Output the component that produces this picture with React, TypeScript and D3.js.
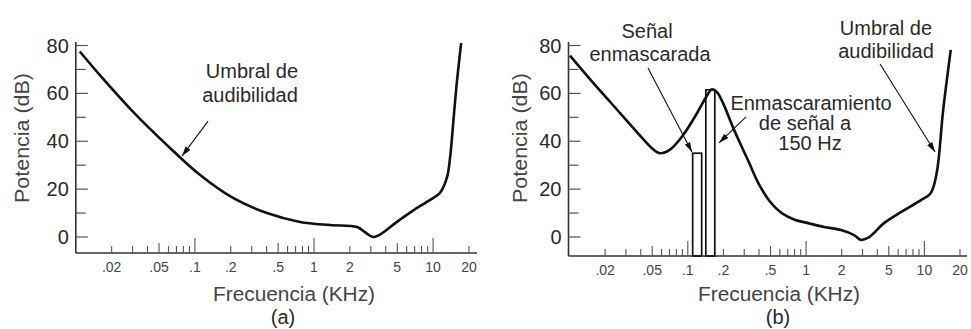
import * as d3 from "d3";
import { useEffect, useRef } from "react";

const COLORS = {
  curve: "#111111",
  axis: "#333333",
  tick: "#555555",
  text: "#2a2a2a",
  textLight: "#444444",
};

const FONT = "'Liberation Sans', Arial, Helvetica, sans-serif";

// x tick labels (kHz)
const freqLabelValues = [0.02, 0.05, 0.1, 0.2, 0.5, 1, 2, 5, 10, 20];
const freqLabels = [".02", ".05", ".1", ".2", ".5", "1", "2", "5", "10", "20"];

// y ticks (dB)
const dbLabelValues = [0, 20, 40, 60, 80];
const dbMinorValues = [10, 30, 50, 70];

// (a) threshold of hearing
const thresholdFreq = [
  0.0108, 0.016, 0.03, 0.058, 0.11, 0.209, 0.403, 0.763, 1.36, 2.3, 2.68,
  3.13, 3.58, 4.97, 6.78, 9.42, 11.4, 13.1, 13.9, 15.0, 15.9, 17.2,
];
const thresholdDb = [
  77.5, 67.5, 52.5, 38.5, 26, 16.3, 10, 6.3, 5, 4.2, 2, 0, 1, 6.3, 11, 15.5,
  18.4, 25, 33.4, 51.8, 65.6, 81,
];

// (b) threshold raised by a 150 Hz masker
const maskedFreq = [
  0.0101, 0.0158, 0.022, 0.0306, 0.0418, 0.05, 0.0582, 0.0707, 0.091, 0.1196,
  0.145, 0.16, 0.177, 0.199, 0.241, 0.29, 0.33, 0.4, 0.5, 0.62, 0.8, 1.04,
  1.42, 1.97, 2.54, 2.91, 3.33, 3.75, 4.55, 6.33, 9.36, 11.3, 12.7, 14.4,
  16.7,
];
const maskedDb = [
  75.8, 64.5, 56.5, 48.5, 41, 37, 35, 36.5, 42.5, 51.7, 59, 61.7, 60.4, 55.8,
  45.8, 37, 31, 22, 14.5, 10, 7.2, 5.8, 4.2, 2.9, 0.8, -1.2, -0.4, 1.7, 5.8,
  10.4, 15.4, 18.3, 26.7, 52.9, 78.2,
];

// (b) tones: masked signal and 150 Hz masker
const toneFreq = [0.12, 0.155];
const toneDb = [35, 61.5];

const PANELS = [
  {
    key: "a",
    x0: 75.8, // pixel of 0.01 kHz
    x1: 314, // pixel of 1 kHz
    xEnd: 477,
    axisY: 253,
    yAxisX: 75.8,
    yTitleX: 29,
    xTitleX: 294,
    captionX: 283,
    freq: thresholdFreq,
    db: thresholdDb,
    tones: false,
    notes: [
      {
        lines: [
          { t: "Umbral de", dx: 252, y: 78 },
          { t: "audibilidad", dx: 250, y: 102 },
        ],
        tip: [0.078, 33.8],
        tail: [26, -35],
      },
    ],
  },
  {
    key: "b",
    x0: 569.5,
    x1: 806.1,
    xEnd: 967,
    axisY: 256,
    yAxisX: 568.5,
    yTitleX: 527,
    xTitleX: 779,
    captionX: 778,
    freq: maskedFreq,
    db: maskedDb,
    tones: true,
    notes: [
      {
        lines: [
          { t: "Señal", dx: 647, y: 38 },
          { t: "enmascarada", dx: 650, y: 61 },
        ],
        tip: [0.1085, 35.5],
        tail: [-44, -84],
      },
      {
        lines: [
          { t: "Enmascaramiento", dx: 811, y: 110 },
          { t: "de señal a", dx: 805, y: 130 },
          { t: "150 Hz", dx: 810, y: 150 },
        ],
        tip: [0.1836, 39.3],
        tail: [27, -26],
      },
      {
        lines: [
          { t: "Umbral de", dx: 886, y: 35 },
          { t: "audibilidad", dx: 886, y: 58 },
        ],
        tip: [12.3, 35.5],
        tail: [-55, -88],
      },
    ],
  },
];

const App = () => {
  const svgRef = useRef(null);

  useEffect(() => {
    const svgEl = d3.select(svgRef.current);
    svgEl.selectAll("*").remove();

    // arrow head
    svgEl
      .append("defs")
      .append("marker")
      .attr("id", "arrow")
      .attr("viewBox", "0 0 10 6")
      .attr("refX", 10)
      .attr("refY", 3)
      .attr("markerWidth", 10)
      .attr("markerHeight", 6)
      .attr("markerUnits", "userSpaceOnUse")
      .attr("orient", "auto")
      .append("path")
      .attr("d", "M0,0 L10,3 L0,6 Z")
      .attr("fill", COLORS.curve);

    const yScale = d3.scaleLinear().domain([0, 80]).range([237, 45.5]);

    PANELS.forEach((p) => {
      const g = svgEl.append("g");
      const xScale = d3.scaleLog().domain([0.01, 1]).range([p.x0, p.x1]);
      const fMax = xScale.invert(p.xEnd);

      // x axis line
      g.append("line")
        .attr("x1", p.yAxisX)
        .attr("x2", p.xEnd)
        .attr("y1", p.axisY)
        .attr("y2", p.axisY)
        .attr("stroke", COLORS.axis)
        .attr("stroke-width", 1.6);

      // y axis line
      g.append("line")
        .attr("x1", p.yAxisX)
        .attr("x2", p.yAxisX)
        .attr("y1", 42)
        .attr("y2", p.axisY)
        .attr("stroke", COLORS.axis)
        .attr("stroke-width", 1.6);

      // x ticks (log minor ticks)
      const ticks = xScale
        .copy()
        .domain([0.01, fMax])
        .ticks()
        .filter((t) => t > 0.0105 && t < fMax);
      g.selectAll(".xtick")
        .data(ticks)
        .enter()
        .append("line")
        .attr("x1", (d) => xScale(d))
        .attr("x2", (d) => xScale(d))
        .attr("y1", p.axisY)
        .attr("y2", (d) => {
          const lead = Math.round(d / Math.pow(10, Math.floor(Math.log10(d) + 1e-9)));
          const h = lead === 1 ? 15 : lead === 5 ? 10 : 7;
          return p.axisY - h;
        })
        .attr("stroke", COLORS.tick)
        .attr("stroke-width", 1.1);

      g.selectAll(".xlabel")
        .data(freqLabelValues)
        .enter()
        .append("text")
        .attr("x", (d) => xScale(d))
        .attr("y", p.axisY + 18.5)
        .attr("text-anchor", "middle")
        .attr("font-family", FONT)
        .attr("font-size", 14)
        .attr("fill", COLORS.textLight)
        .text((d, i) => freqLabels[i]);

      // y ticks
      g.selectAll(".ytick")
        .data(dbLabelValues.concat(dbMinorValues))
        .enter()
        .append("line")
        .attr("x1", p.yAxisX)
        .attr("x2", (d) => p.yAxisX + (d % 20 === 0 ? 12 : 10))
        .attr("y1", (d) => yScale(d))
        .attr("y2", (d) => yScale(d))
        .attr("stroke", COLORS.tick)
        .attr("stroke-width", 1.2);

      g.selectAll(".ylabel")
        .data(dbLabelValues)
        .enter()
        .append("text")
        .attr("x", p.yAxisX - 7)
        .attr("y", (d) => yScale(d))
        .attr("dy", "0.35em")
        .attr("text-anchor", "end")
        .attr("font-family", FONT)
        .attr("font-size", 20)
        .attr("fill", COLORS.text)
        .text((d) => d);

      // axis titles
      g.append("text")
        .attr("transform", `translate(${p.yTitleX},138) rotate(-90)`)
        .attr("text-anchor", "middle")
        .attr("font-family", FONT)
        .attr("font-size", 20)
        .attr("textLength", 130)
        .attr("lengthAdjust", "spacingAndGlyphs")
        .attr("fill", COLORS.textLight)
        .text("Potencia (dB)");

      g.append("text")
        .attr("x", p.xTitleX)
        .attr("y", 301)
        .attr("text-anchor", "middle")
        .attr("font-family", FONT)
        .attr("font-size", 20)
        .attr("textLength", 162)
        .attr("lengthAdjust", "spacingAndGlyphs")
        .attr("fill", COLORS.textLight)
        .text("Frecuencia (KHz)");

      g.append("text")
        .attr("x", p.captionX)
        .attr("y", 324)
        .attr("text-anchor", "middle")
        .attr("font-family", FONT)
        .attr("font-size", 20)
        .attr("fill", COLORS.text)
        .text(`(${p.key})`);

      // tones
      if (p.tones) {
        g.selectAll(".tone")
          .data(toneFreq)
          .enter()
          .append("rect")
          .attr("x", (d) => xScale(d) - 4.5)
          .attr("width", 9)
          .attr("y", (d, i) => yScale(toneDb[i]))
          .attr("height", (d, i) => p.axisY - yScale(toneDb[i]))
          .attr("fill", "none")
          .attr("stroke", COLORS.curve)
          .attr("stroke-width", 1.7);
      }

      // curve
      const pts = p.freq.map((f, i) => [f, p.db[i]]);
      const line = d3
        .line()
        .x((d) => xScale(d[0]))
        .y((d) => yScale(d[1]))
        .curve(d3.curveCatmullRom.alpha(0.5));
      g.append("path")
        .attr("d", line(pts))
        .attr("fill", "none")
        .attr("stroke", COLORS.curve)
        .attr("stroke-width", 2.6)
        .attr("stroke-linejoin", "round");

      // annotations
      p.notes.forEach((n) => {
        n.lines.forEach((l) => {
          g.append("text")
            .attr("x", l.dx)
            .attr("y", l.y)
            .attr("text-anchor", "middle")
            .attr("font-family", FONT)
            .attr("font-size", 20)
            .attr("fill", COLORS.text)
            .text(l.t);
        });
        const tx = xScale(n.tip[0]);
        const ty = yScale(n.tip[1]);
        g.append("line")
          .attr("x1", tx + n.tail[0])
          .attr("y1", ty + n.tail[1])
          .attr("x2", tx)
          .attr("y2", ty)
          .attr("stroke", COLORS.curve)
          .attr("stroke-width", 1.1)
          .attr("marker-end", "url(#arrow)");
      });
    });
  }, []);

  return (
    <svg
      ref={svgRef}
      width={971}
      height={329}
      style={{ position: "absolute", left: 0, top: 0, background: "#fff" }}
    />
  );
};

export default App;
